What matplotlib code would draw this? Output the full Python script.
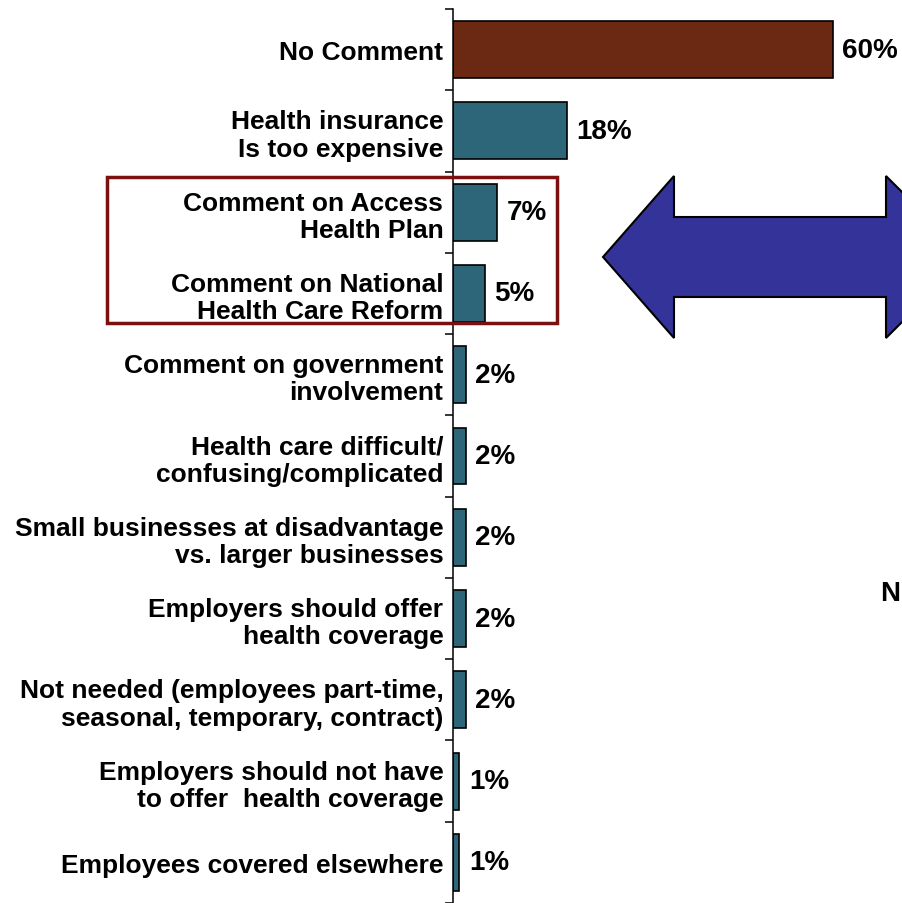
import matplotlib.pyplot as plt
from matplotlib.patches import Rectangle, Polygon
import numpy as np

plt.rcParams['font.family'] = ['Liberation Sans', 'DejaVu Sans']
plt.rcParams['font.weight'] = 'bold'

# survey comments, share of respondents (%)
categories = ['No Comment',
              'Health insurance\nIs too expensive',
              'Comment on Access\nHealth Plan',
              'Comment on National\nHealth Care Reform',
              'Comment on government\ninvolvement',
              'Health care difficult/\nconfusing/complicated',
              'Small businesses at disadvantage\nvs. larger businesses',
              'Employers should offer\nhealth coverage',
              'Not needed (employees part-time,\nseasonal, temporary, contract)',
              'Employers should not have\nto offer  health coverage',
              'Employees covered elsewhere']
values = [60, 18, 7, 5, 2, 2, 2, 2, 2, 1, 1]
labels = ['60%', '18%', '7%', '5%', '2%', '2%', '2%', '2%', '2%', '1%', '1%']

W, H = 903, 904
fig = plt.figure(figsize=(W / 100, H / 100), dpi=100)
ax = fig.add_axes([453 / W, 0, 450 / W, (H - 10) / H])

colors = ['#6b2914'] + ['#2c6678'] * (len(values) - 1)
y = np.arange(len(values))
ax.barh(y, values, height=0.7, color=colors, edgecolor='black', linewidth=1.2)

for yi, v, lab in zip(y, values, labels):
    ax.annotate(lab, (v, yi), xytext=(7, 0), textcoords='offset points',
                ha='left', va='center', fontsize=20, fontweight='bold')

ax.set_xlim(0, 71.1)
ax.set_ylim(len(values) - 0.5, -0.5)
ax.set_yticks(y)
ax.set_yticklabels(categories, fontsize=19, fontweight='bold', linespacing=1.17)
ax.set_yticks(np.arange(len(values) + 1) - 0.5, minor=True)
ax.tick_params(axis='y', which='major', length=0, pad=7)
ax.tick_params(axis='y', which='minor', length=6, width=1.1, direction='out')
ax.set_xticks([])
for s in ['top', 'right', 'bottom']:
    ax.spines[s].set_visible(False)
ax.spines['left'].set_linewidth(1.1)

# highlight box around the two reform-related comments
px = lambda x0, y0: (x0 / W, 1 - y0 / H)
fig.patches.append(Rectangle(px(107, 324), 450 / W, 146 / H, fill=False,
                             edgecolor='#7b1010', linewidth=2.5,
                             transform=fig.transFigure))

# double-headed arrow pointing at the box
arrow_pts = [(603, 258), (674, 177), (674, 218), (886, 218), (886, 177),
             (967, 258), (886, 339), (886, 298), (674, 298), (674, 339)]
fig.patches.append(Polygon([px(a, b) for a, b in arrow_pts], closed=True,
                           facecolor='#333399', edgecolor='black',
                           linewidth=1.5, transform=fig.transFigure))

fig.text(880 / W, 1 - 594 / H, 'N', fontsize=20, fontweight='bold',
         ha='left', va='center')

fig.savefig('out.png', dpi=100)
